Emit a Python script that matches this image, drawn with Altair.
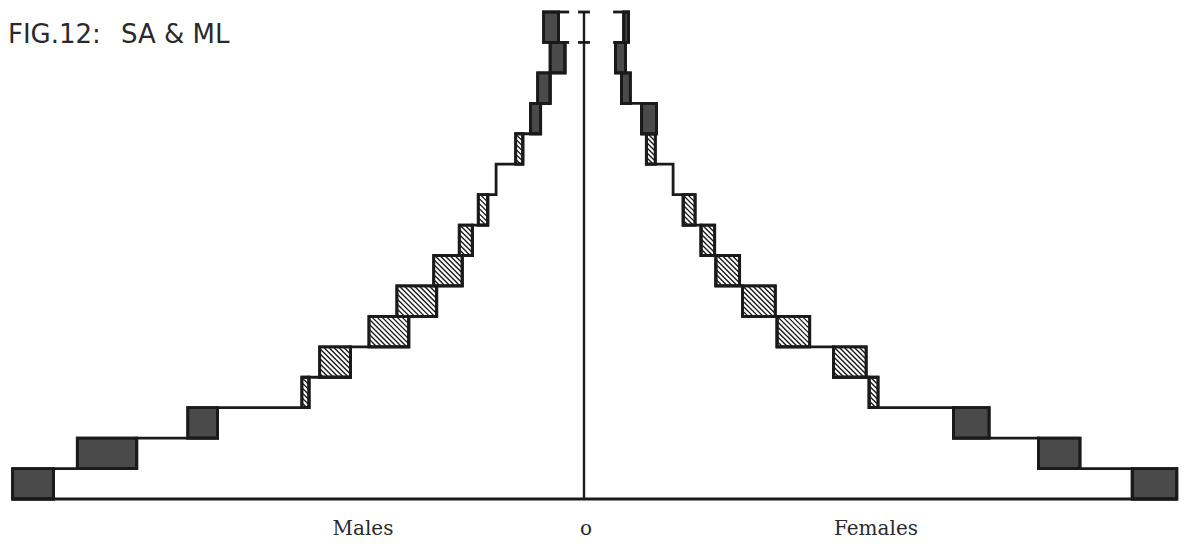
import altair as alt
import pandas as pd
import numpy as np

# ---------------- data (% of population) ----------------
age_lower = [0, 5, 10, 15, 20, 25, 30, 35, 40, 45, 50, 55, 60, 65, 70, 75]
males_sa = [8.93, 7.53, 6.17, 4.75, 4.45, 3.62, 3.15, 2.53, 2.10, 1.78, 1.48, 1.15, 0.73, 0.57, 0.32, 0.43]
males_ml = [9.62, 8.53, 6.67, 4.63, 3.93, 2.95, 2.48, 2.05, 1.88, 1.62, 1.48, 1.03, 0.90, 0.78, 0.57, 0.68]
females_sa = [9.23, 7.65, 6.22, 4.95, 4.75, 3.80, 3.22, 2.62, 2.20, 1.87, 1.50, 1.20, 0.97, 0.63, 0.53, 0.67]
females_ml = [9.98, 8.35, 6.82, 4.80, 4.20, 3.25, 2.67, 2.22, 1.97, 1.67, 1.50, 1.05, 1.22, 0.78, 0.70, 0.75]
band = 5

# ---------------- layout / scale mapping ----------------
W, H = 1171, 535
PX_PER_UNIT = 59.4
CX = 576.0            # chart x of the zero line
PX_PER_YEAR = 6.0875
Y0 = 491.0            # chart y of age 0
x_domain = [-CX / PX_PER_UNIT, (W - CX) / PX_PER_UNIT]
y_domain = [(Y0 - H) / PX_PER_YEAR, Y0 / PX_PER_YEAR]
xs = alt.Scale(domain=x_domain, nice=False, zero=False)
ys = alt.Scale(domain=y_domain, nice=False, zero=False)

def to_px(v, a):
    return CX + PX_PER_UNIT * v, Y0 - PX_PER_YEAR * a

def to_data(px, py):
    return (px - CX) / PX_PER_UNIT, (Y0 - py) / PX_PER_YEAR

# ---------------- build tables ----------------
box_rows, stair_rows = [], []
for side, sign, sa_l, ml_l in [("Males", -1, males_sa, males_ml), ("Females", 1, females_sa, females_ml)]:
    k = 0
    for a, sa, ml in zip(age_lower, sa_l, ml_l):
        inner = min(sa, ml)
        stair_rows.append(dict(side=side, k=k, x=sign * inner, y=a)); k += 1
        stair_rows.append(dict(side=side, k=k, x=sign * inner, y=a + band)); k += 1
        if sa == ml:
            continue
        kind = "dark" if ml > sa else "hatch"
        box_rows.append(dict(side=side, kind=kind, x=sign * sa, x2=sign * ml, y=a, y2=a + band))
boxes = pd.DataFrame(box_rows)
stairs = pd.DataFrame(stair_rows)

# hatch lines inside the hatched boxes ("\\" direction)
hatch_rows = []
STEP = 5.0
for r in box_rows:
    if r["kind"] != "hatch":
        continue
    px1, py1 = to_px(r["x"], r["y2"])
    px2, py2 = to_px(r["x2"], r["y"])
    x0, x1 = min(px1, px2), max(px1, px2)
    y0, y1 = min(py1, py2), max(py1, py2)
    c = y0 - x1 + STEP / 2
    while c < y1 - x0:
        xa = max(x0, y0 - c)
        xb = min(x1, y1 - c)
        if xb - xa > 0.5:
            dx1, dy1 = to_data(xa, xa + c)
            dx2, dy2 = to_data(xb, xb + c)
            hatch_rows.append(dict(x=dx1, y=dy1, x2=dx2, y2=dy2))
        c += STEP
hatch = pd.DataFrame(hatch_rows)

top = age_lower[-1]
top_end = top + band
inner_m = min(males_sa[-1], males_ml[-1])
inner_f = min(females_sa[-1], females_ml[-1])
TICK, CTICK = 0.18, 0.1
tick_rows = []
for yy in [top, top_end]:
    tick_rows.append(dict(x=-inner_m, x2=-inner_m + TICK, y=yy))
    tick_rows.append(dict(x=-CTICK, x2=CTICK, y=yy))
    tick_rows.append(dict(x=inner_f - TICK, x2=inner_f, y=yy))
ticks = pd.DataFrame(tick_rows)

axis_df = pd.DataFrame({"x": [0.0], "y": [0.0], "y2": [float(top_end)]})
base_df = pd.DataFrame({"x": [-max(males_sa[0], males_ml[0])],
                        "x2": [max(females_sa[0], females_ml[0])], "y": [0.0]})

INK = "#1a1a1a"
DARK = "#4a4a4a"
LW = 2.8

rect_fill = alt.Chart(boxes).mark_rect(stroke=INK, strokeWidth=LW).encode(
    x=alt.X("x:Q", scale=xs, axis=None),
    x2="x2:Q",
    y=alt.Y("y:Q", scale=ys, axis=None),
    y2="y2:Q",
    fill=alt.condition(alt.datum.kind == "dark", alt.value(DARK), alt.value("white")),
)
hatch_layer = alt.Chart(hatch).mark_rule(color=INK, strokeWidth=1.4).encode(
    x=alt.X("x:Q", scale=xs, axis=None), x2="x2:Q",
    y=alt.Y("y:Q", scale=ys, axis=None), y2="y2:Q",
)
rect_outline = alt.Chart(boxes).mark_rect(stroke=INK, strokeWidth=LW, fillOpacity=0).encode(
    x=alt.X("x:Q", scale=xs, axis=None), x2="x2:Q",
    y=alt.Y("y:Q", scale=ys, axis=None), y2="y2:Q",
)
stair_layer = alt.Chart(stairs).mark_line(color=INK, strokeWidth=LW, strokeJoin="miter").encode(
    x=alt.X("x:Q", scale=xs, axis=None),
    y=alt.Y("y:Q", scale=ys, axis=None),
    detail="side:N",
    order="k:Q",
)
axis_layer = alt.Chart(axis_df).mark_rule(color=INK, strokeWidth=2.4).encode(
    x=alt.X("x:Q", scale=xs, axis=None),
    y=alt.Y("y:Q", scale=ys, axis=None), y2="y2:Q",
)
base_layer = alt.Chart(base_df).mark_rule(color=INK, strokeWidth=3).encode(
    x=alt.X("x:Q", scale=xs, axis=None), x2="x2:Q",
    y=alt.Y("y:Q", scale=ys, axis=None),
)
tick_layer = alt.Chart(ticks).mark_rule(color=INK, strokeWidth=LW).encode(
    x=alt.X("x:Q", scale=xs, axis=None), x2="x2:Q",
    y=alt.Y("y:Q", scale=ys, axis=None),
)

def label(txt, x, y, size, font, align="left"):
    return alt.Chart(pd.DataFrame({"t": [txt]})).mark_text(
        align=align, baseline="alphabetic", fontSize=size, font=font, color="#2a2a2a"
    ).encode(text="t:N", x=alt.value(x), y=alt.value(y))

title1 = label("FIG.12:", 0, 35, 26, "DejaVu Sans")
title2 = label("SA & ML", 113, 35, 26, "DejaVu Sans")
lab_m = label("Males", 355, 527, 20, "DejaVu Serif", "center")
lab_o = label("o", 578, 527, 20, "DejaVu Serif", "center")
lab_f = label("Females", 868, 527, 20, "DejaVu Serif", "center")

chart = alt.layer(
    rect_fill, hatch_layer, rect_outline, stair_layer, axis_layer, base_layer, tick_layer,
    title1, title2, lab_m, lab_o, lab_f,
).properties(
    width=W, height=H, autosize=alt.AutoSizeParams(type="none"), padding=0,
).configure_view(stroke=None)

chart.save("out.html", embed_options={"renderer": "svg", "actions": False})
